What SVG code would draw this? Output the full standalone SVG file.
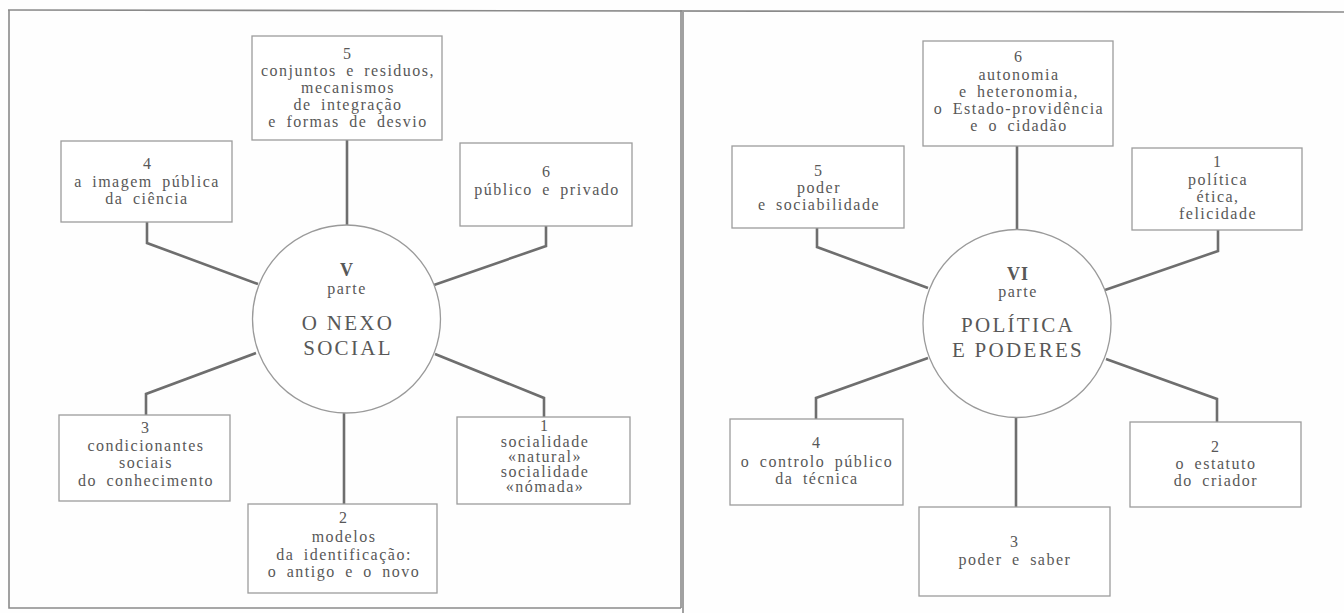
<svg xmlns="http://www.w3.org/2000/svg" width="1344" height="613" viewBox="0 0 1344 613">
<style>
.bg{fill:#fefefe}
.frame{stroke:#8a8a8a;stroke-width:1.6;fill:none}
.box{fill:#fff;stroke:#9c9c9c;stroke-width:1.3}
.hub{fill:#fff;stroke:#9a9a9a;stroke-width:1.3}
.con{stroke:#6e6e6e;stroke-width:2.6;fill:none;stroke-linejoin:miter}
text{font-family:"Liberation Serif","Times New Roman",serif;fill:#585858;text-anchor:middle}
.t{font-size:16px;letter-spacing:1.5px;word-spacing:4px}
.num{font-size:16px}
.roman{font-size:18px;font-weight:bold;letter-spacing:1px}
.title{font-size:21px;letter-spacing:2.3px}
</style>
<rect class="bg" x="0" y="0" width="1344" height="613"/>
<g id="frame">
<path class="frame" d="M8 10 L1344 12"/>
<path class="frame" d="M9 10 L9 608 L681 608"/>
<path class="frame" d="M681 10 L681 608"/>
<path class="frame" d="M683 12 L683 613"/>
</g>
<g id="connectors">
<path class="con" d="M347 140 L347 225"/>
<path class="con" d="M147 222 L147 243 L258 284"/>
<path class="con" d="M546 226 L546 246 L434 285"/>
<path class="con" d="M256 353 L146 394 L146 415"/>
<path class="con" d="M344 413 L344 504"/>
<path class="con" d="M435 354 L544 398 L544 417"/>
<path class="con" d="M1017 146 L1017 229"/>
<path class="con" d="M817 228 L817 247 L928 288"/>
<path class="con" d="M1218 230 L1218 251 L1105 290"/>
<path class="con" d="M928 358 L816 398 L816 419"/>
<path class="con" d="M1016 417 L1016 507"/>
<path class="con" d="M1106 359 L1217 399 L1217 422"/>
</g>
<g id="hub-v">
<circle class="hub" cx="346.5" cy="319" r="94"/>
<text class="roman" x="347" y="276">V</text>
<text class="t" x="347" y="294">parte</text>
<text class="title" x="348" y="330">O NEXO</text>
<text class="title" x="348" y="355">SOCIAL</text>
</g>
<g id="v-5">
<rect class="box" x="252" y="36" width="190" height="104"/>
<text class="num" x="347" y="59">5</text>
<text class="t" x="348" y="76">conjuntos e residuos,</text>
<text class="t" x="348" y="93">mecanismos</text>
<text class="t" x="348" y="110">de integração</text>
<text class="t" x="348" y="127">e formas de desvio</text>
</g>
<g id="v-4">
<rect class="box" x="61" y="141" width="171" height="81"/>
<text class="num" x="147" y="169">4</text>
<text class="t" x="147" y="187">a imagem pública</text>
<text class="t" x="147" y="204">da ciência</text>
</g>
<g id="v-6">
<rect class="box" x="460" y="143" width="172" height="83"/>
<text class="num" x="546" y="177">6</text>
<text class="t" x="547" y="195">público e privado</text>
</g>
<g id="v-3">
<rect class="box" x="59" y="415" width="171" height="86"/>
<text class="num" x="145" y="433">3</text>
<text class="t" x="146" y="451">condicionantes</text>
<text class="t" x="146" y="468">sociais</text>
<text class="t" x="146" y="486">do conhecimento</text>
</g>
<g id="v-2">
<rect class="box" x="248" y="504" width="189" height="89"/>
<text class="num" x="343" y="523">2</text>
<text class="t" x="344" y="542">modelos</text>
<text class="t" x="344" y="560">da identificação:</text>
<text class="t" x="344" y="577">o antigo e o novo</text>
</g>
<g id="v-1">
<rect class="box" x="457" y="417" width="173" height="87"/>
<text class="num" x="544" y="431">1</text>
<text class="t" x="545" y="447">socialidade</text>
<text class="t" x="545" y="462">«natural»</text>
<text class="t" x="545" y="477">socialidade</text>
<text class="t" x="545" y="492">«nómada»</text>
</g>
<g id="hub-vi">
<circle class="hub" cx="1017" cy="323.5" r="94"/>
<text class="roman" x="1018" y="280">VI</text>
<text class="t" x="1018" y="297">parte</text>
<text class="title" x="1018" y="332">POLÍTICA</text>
<text class="title" x="1018" y="357">E PODERES</text>
</g>
<g id="vi-6">
<rect class="box" x="923" y="41" width="190" height="105"/>
<text class="num" x="1018" y="62">6</text>
<text class="t" x="1019" y="80">autonomia</text>
<text class="t" x="1019" y="97">e heteronomia,</text>
<text class="t" x="1019" y="114">o Estado-providência</text>
<text class="t" x="1019" y="131">e o cidadão</text>
</g>
<g id="vi-5">
<rect class="box" x="732" y="146" width="172" height="82"/>
<text class="num" x="818" y="176">5</text>
<text class="t" x="819" y="193">poder</text>
<text class="t" x="819" y="210">e sociabilidade</text>
</g>
<g id="vi-1">
<rect class="box" x="1132" y="148" width="170" height="82"/>
<text class="num" x="1217" y="167">1</text>
<text class="t" x="1218" y="185">política</text>
<text class="t" x="1218" y="202">ética,</text>
<text class="t" x="1218" y="219">felicidade</text>
</g>
<g id="vi-4">
<rect class="box" x="730" y="419" width="173" height="86"/>
<text class="num" x="816" y="448">4</text>
<text class="t" x="817" y="467">o controlo público</text>
<text class="t" x="817" y="484">da técnica</text>
</g>
<g id="vi-3">
<rect class="box" x="919" y="507" width="191" height="89"/>
<text class="num" x="1014" y="547">3</text>
<text class="t" x="1015" y="565">poder e saber</text>
</g>
<g id="vi-2">
<rect class="box" x="1130" y="422" width="171" height="85"/>
<text class="num" x="1215" y="452">2</text>
<text class="t" x="1216" y="469">o estatuto</text>
<text class="t" x="1216" y="486">do criador</text>
</g>
</svg>
